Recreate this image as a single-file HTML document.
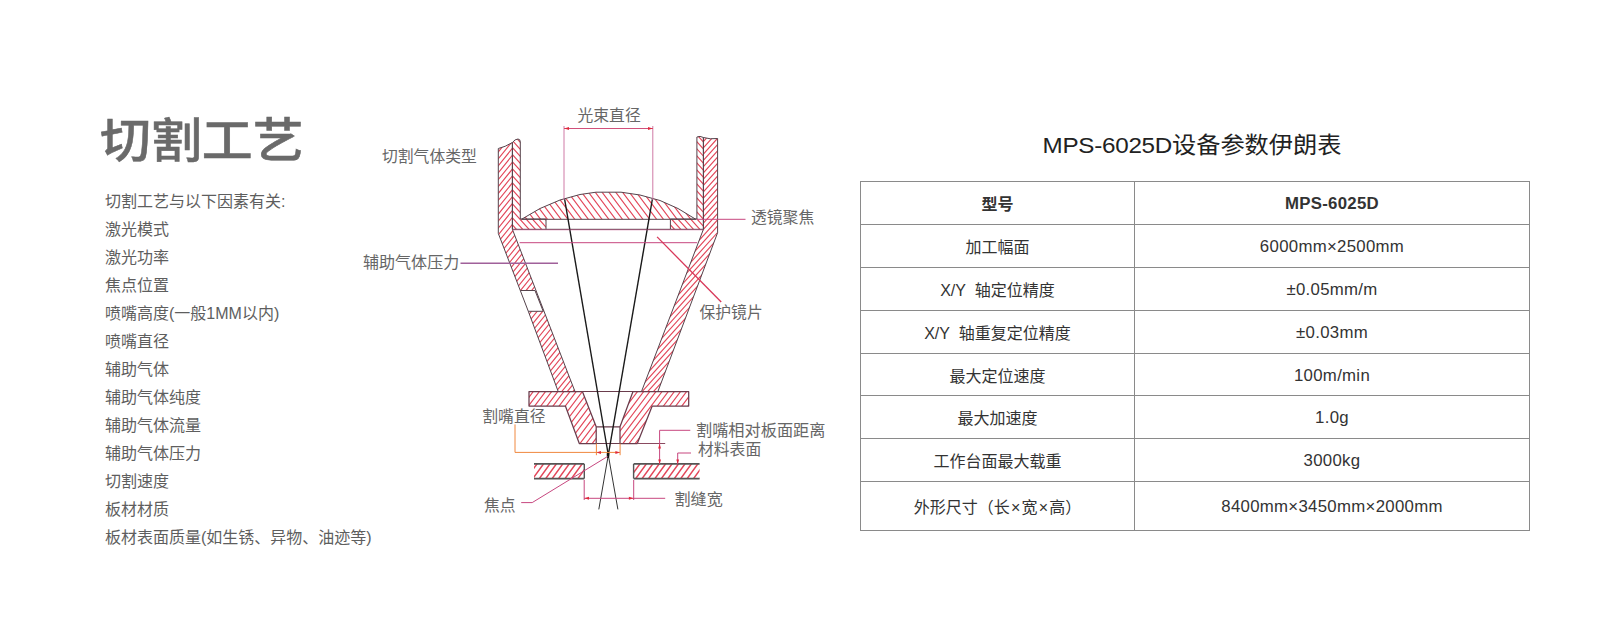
<!DOCTYPE html>
<html lang="zh-CN">
<head>
<meta charset="utf-8">
<title>切割工艺</title>
<style>
html,body{margin:0;padding:0;background:#fff;}
body{width:1600px;height:636px;position:relative;overflow:hidden;
  font-family:"Liberation Sans","Noto Sans CJK SC",sans-serif;color:#555;}
.abs{position:absolute;white-space:nowrap;}
h1.title{position:absolute;left:100px;top:105.6px;margin:0;font-size:46.5px;line-height:70px;font-weight:500;color:#6a6a6a;white-space:nowrap;letter-spacing:0;transform:scaleX(1.095);transform-origin:0 0;-webkit-text-stroke:0.5px #6a6a6a;}
ul.list{position:absolute;left:105px;top:188px;margin:0;padding:0;list-style:none;font-size:16px;line-height:28px;color:#5e5e5e;white-space:nowrap;}
ul.list li{height:28px;}
.lbl{position:absolute;font-size:15.8px;line-height:20px;color:#666;white-space:nowrap;}
svg.diag{position:absolute;left:0;top:0;width:1600px;height:636px;}
h2.ttl{position:absolute;left:857px;width:670px;top:125px;margin:0;text-align:center;transform:scaleX(1.064);transform-origin:50% 50%;font-size:22.75px;line-height:40px;font-weight:400;color:#222;white-space:nowrap;}
table.spec{position:absolute;left:860px;top:181px;width:670px;border-collapse:collapse;table-layout:fixed;font-size:16px;color:#333;}
table.spec td,table.spec th{border:1px solid #8a8a8a;height:42px;padding:0;text-align:center;vertical-align:middle;font-weight:400;}
table.spec th{font-weight:700;}
table.spec tr.r5 td{height:41px;}
table.spec tr.last td{height:48px;}
table.spec td.v,table.spec th.v{font-size:16.8px;letter-spacing:0.3px;padding-top:2px;height:40px;}
table.spec tr.r5 td.v{height:39px;}
table.spec tr.last td.v{height:46px;}
table.spec col.c1{width:274px;}
table.spec .x{margin:0 1.25px;}
</style>
</head>
<body>
<h1 class="title">切割工艺</h1>
<ul class="list">
<li>切割工艺与以下因素有关:</li>
<li>激光模式</li>
<li>激光功率</li>
<li>焦点位置</li>
<li>喷嘴高度(一般1MM以内)</li>
<li>喷嘴直径</li>
<li>辅助气体</li>
<li>辅助气体纯度</li>
<li>辅助气体流量</li>
<li>辅助气体压力</li>
<li>切割速度</li>
<li>板材材质</li>
<li>板材表面质量(如生锈、异物、油迹等)</li>
</ul>

<!--DIAGRAM-START-->
<svg class="diag" viewBox="0 0 1600 636" width="1600" height="636">
<defs>
<clipPath id="c_lw1"><path d="M498.3,148.5 Q505,147 512.4,142.5 L512.4,229.3 L570.5,380 L575,391.5 L558.2,391.5 L528.3,311.3 L543.2,311.3 L535,290.5 L520.3,290.5 L498.3,233.4 Z"/></clipPath>
<clipPath id="c_lw2"><path d="M512.4,142.5 Q515,139 518,139 Q520.3,139 520.3,142 L520.3,219 L546,219 L546,229.3 L512.4,229.3 Z"/></clipPath>
<clipPath id="c_rw1"><path d="M703.4,137.5 Q710,139.5 717.6,138.5 L717.6,232.7 L657.9,391.5 L641.5,391.5 L703.4,229.3 Z"/></clipPath>
<clipPath id="c_rw2"><path d="M703.4,137.5 Q700,135.5 696.9,137 L696.9,219 L670.4,219 L670.4,229.3 L703.4,229.3 Z"/></clipPath>
<clipPath id="c_lens"><path d="M521.5,219.3 L540,208.5 L560,200 L580,194.5 L596,192.2 L621,192.2 L640,195 L660,200.5 L678,208.5 L695.8,219.3 Z"/></clipPath>
<clipPath id="c_noz1"><path d="M529,391.5 L582.4,391.5 L596.2,426.8 L596.2,443.5 L579.3,443.5 L565.4,406 L529,406 Z"/></clipPath>
<clipPath id="c_noz2"><path d="M688.7,391.5 L633,391.5 L620,426.8 L620,443.5 L637.3,443.5 L652.2,406 L688.7,406 Z"/></clipPath>
<clipPath id="c_pl1"><path d="M534,463.9 L584.3,463.9 L584.3,478.6 L534,478.6 Z"/></clipPath>
<clipPath id="c_pl2"><path d="M633.6,463.9 L699.6,463.9 L699.6,478.6 L633.6,478.6 Z"/></clipPath>
</defs>
<g fill="none" stroke="#e3475a">
<path clip-path="url(#c_lw1)" stroke-width="1.15" d="M350.3,286.3L516.8,80.7M353.7,289.0L520.2,83.4M357.1,291.8L523.5,86.2M360.4,294.5L526.9,88.9M363.8,297.2L530.3,91.7M367.2,300.0L533.7,94.4M370.6,302.7L537.1,97.1M374.0,305.5L540.4,99.9M377.3,308.2L543.8,102.6M380.7,310.9L547.2,105.3M384.1,313.7L550.6,108.1M387.5,316.4L554.0,110.8M390.9,319.1L557.3,113.6M394.2,321.9L560.7,116.3M397.6,324.6L564.1,119.0M401.0,327.4L567.5,121.8M404.4,330.1L570.9,124.5M407.8,332.8L574.2,127.2M411.1,335.6L577.6,130.0M414.5,338.3L581.0,132.7M417.9,341.0L584.4,135.5M421.3,343.8L587.8,138.2M424.7,346.5L591.1,140.9M428.0,349.3L594.5,143.7M431.4,352.0L597.9,146.4M434.8,354.7L601.3,149.1M438.2,357.5L604.7,151.9M441.6,360.2L608.1,154.6M444.9,362.9L611.4,157.4M448.3,365.7L614.8,160.1M451.7,368.4L618.2,162.8M455.1,371.2L621.6,165.6M458.5,373.9L625.0,168.3M461.9,376.6L628.3,171.0M465.2,379.4L631.7,173.8M468.6,382.1L635.1,176.5M472.0,384.8L638.5,179.3M475.4,387.6L641.9,182.0M478.8,390.3L645.2,184.7M482.1,393.1L648.6,187.5M485.5,395.8L652.0,190.2M488.9,398.5L655.4,192.9M492.3,401.3L658.8,195.7M495.7,404.0L662.1,198.4M499.0,406.7L665.5,201.2M502.4,409.5L668.9,203.9M505.8,412.2L672.3,206.6M509.2,415.0L675.7,209.4M512.6,417.7L679.0,212.1M515.9,420.4L682.4,214.8M519.3,423.2L685.8,217.6M522.7,425.9L689.2,220.3M526.1,428.6L692.6,223.1M529.5,431.4L695.9,225.8M532.8,434.1L699.3,228.5M536.2,436.9L702.7,231.3M539.6,439.6L706.1,234.0M543.0,442.3L709.5,236.7M546.4,445.1L712.9,239.5M549.7,447.8L716.2,242.2M553.1,450.5L719.6,245.0M556.5,453.3L723.0,247.7"/>
<path clip-path="url(#c_lw2)" stroke-width="1.15" d="M535.9,110.6L603.1,185.1M532.4,113.7L599.6,188.3M529.0,116.9L596.1,191.4M525.5,120.0L592.6,194.6M522.0,123.1L589.1,197.7M518.5,126.3L585.6,200.9M515.0,129.4L582.1,204.0M511.5,132.6L578.6,207.2M508.0,135.7L575.1,210.3M504.5,138.9L571.7,213.4M501.0,142.0L568.2,216.6M497.5,145.2L564.7,219.7M494.0,148.3L561.2,222.9M490.5,151.4L557.7,226.0M487.0,154.6L554.2,229.2M483.5,157.7L550.7,232.3M480.1,160.9L547.2,235.5M476.6,164.0L543.7,238.6M473.1,167.2L540.2,241.7M469.6,170.3L536.7,244.9M466.1,173.5L533.2,248.0M462.6,176.6L529.7,251.2M459.1,179.8L526.2,254.3M455.6,182.9L522.8,257.5"/>
<path clip-path="url(#c_rw1)" stroke-width="1.15" d="M488.4,273.5L668.5,73.5M491.6,276.3L671.7,76.3M494.7,279.1L674.8,79.1M497.8,281.9L677.9,81.9M500.9,284.8L681.0,84.7M504.0,287.6L684.1,87.5M507.2,290.4L687.3,90.4M510.3,293.2L690.4,93.2M513.4,296.0L693.5,96.0M516.5,298.8L696.6,98.8M519.7,301.6L699.8,101.6M522.8,304.4L702.9,104.4M525.9,307.2L706.0,107.2M529.0,310.1L709.1,110.0M532.1,312.9L712.2,112.8M535.3,315.7L715.4,115.7M538.4,318.5L718.5,118.5M541.5,321.3L721.6,121.3M544.6,324.1L724.7,124.1M547.7,326.9L727.8,126.9M550.9,329.7L731.0,129.7M554.0,332.5L734.1,132.5M557.1,335.3L737.2,135.3M560.2,338.2L740.3,138.1M563.3,341.0L743.4,140.9M566.5,343.8L746.6,143.8M569.6,346.6L749.7,146.6M572.7,349.4L752.8,149.4M575.8,352.2L755.9,152.2M579.0,355.0L759.1,155.0M582.1,357.8L762.2,157.8M585.2,360.6L765.3,160.6M588.3,363.4L768.4,163.4M591.4,366.3L771.5,166.2M594.6,369.1L774.7,169.0M597.7,371.9L777.8,171.9M600.8,374.7L780.9,174.7M603.9,377.5L784.0,177.5M607.0,380.3L787.1,180.3M610.2,383.1L790.3,183.1M613.3,385.9L793.4,185.9M616.4,388.7L796.5,188.7M619.5,391.6L799.6,191.5M622.7,394.4L802.8,194.3M625.8,397.2L805.9,197.2M628.9,400.0L809.0,200.0M632.0,402.8L812.1,202.8M635.1,405.6L815.2,205.6M638.3,408.4L818.4,208.4M641.4,411.2L821.5,211.2M644.5,414.0L824.6,214.0M647.6,416.8L827.7,216.8M650.7,419.7L830.8,219.6M653.9,422.5L834.0,222.4M657.0,425.3L837.1,225.3M660.1,428.1L840.2,228.1M663.2,430.9L843.3,230.9M666.3,433.7L846.4,233.7M669.5,436.5L849.6,236.5M672.6,439.3L852.7,239.3M675.7,442.1L855.8,242.1M678.8,444.9L858.9,244.9M682.0,447.8L862.1,247.7M685.1,450.6L865.2,250.5M688.2,453.4L868.3,253.4M691.3,456.2L871.4,256.2"/>
<path clip-path="url(#c_rw2)" stroke-width="1.15" d="M692.0,108.2L761.2,185.1M688.5,111.4L757.7,188.3M685.0,114.5L754.2,191.4M681.5,117.7L750.7,194.5M678.0,120.8L747.2,197.7M674.5,124.0L743.7,200.8M671.0,127.1L740.2,204.0M667.5,130.3L736.7,207.1M664.0,133.4L733.2,210.3M660.5,136.6L729.7,213.4M657.0,139.7L726.2,216.6M653.5,142.8L722.8,219.7M650.1,146.0L719.3,222.9M646.6,149.1L715.8,226.0M643.1,152.3L712.3,229.1M639.6,155.4L708.8,232.3M636.1,158.6L705.3,235.4M632.6,161.7L701.8,238.6M629.1,164.9L698.3,241.7M625.6,168.0L694.8,244.9M622.1,171.1L691.3,248.0M618.6,174.3L687.8,251.2M615.1,177.4L684.3,254.3M611.6,180.6L680.8,257.4"/>
<path clip-path="url(#c_lens)" stroke-width="1.15" d="M630.7,76.2L739.2,220.3M626.3,79.5L734.9,223.6M622.0,82.8L730.5,226.9M617.6,86.1L726.2,230.1M613.3,89.3L721.8,233.4M608.9,92.6L717.5,236.7M604.5,95.9L713.1,240.0M600.2,99.2L708.8,243.3M595.8,102.5L704.4,246.5M591.5,105.7L700.1,249.8M587.1,109.0L695.7,253.1M582.8,112.3L691.4,256.4M578.4,115.6L687.0,259.6M574.1,118.9L682.6,262.9M569.7,122.1L678.3,266.2M565.4,125.4L673.9,269.5M561.0,128.7L669.6,272.8M556.7,132.0L665.2,276.0M552.3,135.3L660.9,279.3M548.0,138.5L656.5,282.6M543.6,141.8L652.2,285.9M539.3,145.1L647.8,289.2M534.9,148.4L643.5,292.4M530.6,151.7L639.1,295.7M526.2,154.9L634.8,299.0M521.9,158.2L630.4,302.3M517.5,161.5L626.1,305.6M513.1,164.8L621.7,308.8M508.8,168.1L617.4,312.1M504.4,171.3L613.0,315.4M500.1,174.6L608.7,318.7M495.7,177.9L604.3,322.0M491.4,181.2L599.9,325.2M487.0,184.5L595.6,328.5M482.7,187.7L591.2,331.8M478.3,191.0L586.9,335.1"/>
<path clip-path="url(#c_noz1)" stroke-width="1.15" d="M496.8,423.6L550.3,352.6M500.7,426.6L554.3,355.5M504.6,429.5L558.2,358.5M508.5,432.5L562.1,361.4M512.5,435.4L566.0,364.4M516.4,438.4L569.9,367.3M520.3,441.3L573.8,370.3M524.2,444.3L577.7,373.2M528.1,447.2L581.6,376.2M532.0,450.2L585.6,379.1M535.9,453.1L589.5,382.1M539.8,456.1L593.4,385.0M543.8,459.0L597.3,387.9M547.7,462.0L601.2,390.9M551.6,464.9L605.1,393.8M555.5,467.8L609.0,396.8M559.4,470.8L613.0,399.7M563.3,473.7L616.9,402.7M567.2,476.7L620.8,405.6M571.2,479.6L624.7,408.6M575.1,482.6L628.6,411.5"/>
<path clip-path="url(#c_noz2)" stroke-width="1.15" d="M588.4,424.2L642.6,352.2M592.3,427.2L646.5,355.2M596.2,430.1L650.5,358.1M600.1,433.1L654.4,361.1M604.0,436.0L658.3,364.0M607.9,439.0L662.2,367.0M611.9,441.9L666.1,369.9M615.8,444.9L670.0,372.9M619.7,447.8L673.9,375.8M623.6,450.8L677.9,378.8M627.5,453.7L681.8,381.7M631.4,456.7L685.7,384.7M635.3,459.6L689.6,387.6M639.2,462.6L693.5,390.6M643.2,465.5L697.4,393.5M647.1,468.5L701.3,396.5M651.0,471.4L705.2,399.4M654.9,474.4L709.2,402.4M658.8,477.3L713.1,405.3M662.7,480.3L717.0,408.3M666.6,483.2L720.9,411.2"/>
<path clip-path="url(#c_pl1)" stroke-width="1.5" d="M516.2,474.9L549.4,429.3M520.4,478.0L553.6,432.4M524.6,481.0L557.8,435.4M528.9,484.1L562.0,438.5M533.1,487.2L566.2,441.5M537.3,490.2L570.4,444.6M541.5,493.3L574.6,447.6M545.7,496.3L578.8,450.7M549.9,499.4L583.0,453.8M554.1,502.4L587.3,456.8M558.3,505.5L591.5,459.9M562.5,508.6L595.7,462.9M566.7,511.6L599.9,466.0"/>
<path clip-path="url(#c_pl2)" stroke-width="1.5" d="M616.2,478.9L658.3,421.0M620.4,481.9L662.5,424.0M624.6,485.0L666.7,427.1M628.8,488.1L670.9,430.1M633.0,491.1L675.1,433.2M637.2,494.2L679.3,436.2M641.4,497.2L683.5,439.3M645.6,500.3L687.7,442.3M649.9,503.3L691.9,445.4M654.1,506.4L696.2,448.5M658.3,509.5L700.4,451.5M662.5,512.5L704.6,454.6M666.7,515.6L708.8,457.6M670.9,518.6L713.0,460.7M675.1,521.7L717.2,463.7"/>
</g>
<g fill="none" stroke="#55434c" stroke-width="1" stroke-linejoin="round">
<path stroke="#55434c" stroke-width="1.0" d="M498.3,148.5 Q505,147 512.4,142.5 L512.4,229.3 L570.5,380 L575,391.5 L558.2,391.5 L528.3,311.3 L543.2,311.3 L535,290.5 L520.3,290.5 L498.3,233.4 Z"/>
<path stroke="#55434c" stroke-width="1.0" d="M512.4,142.5 Q515,139 518,139 Q520.3,139 520.3,142 L520.3,219 L546,219 L546,229.3 L512.4,229.3 Z"/>
<path stroke="#55434c" stroke-width="1.0" d="M703.4,137.5 Q710,139.5 717.6,138.5 L717.6,232.7 L657.9,391.5 L641.5,391.5 L703.4,229.3 Z"/>
<path stroke="#55434c" stroke-width="1.0" d="M703.4,137.5 Q700,135.5 696.9,137 L696.9,219 L670.4,219 L670.4,229.3 L703.4,229.3 Z"/>
<path stroke="#55434c" stroke-width="1.0" d="M521.5,219.3 L540,208.5 L560,200 L580,194.5 L596,192.2 L621,192.2 L640,195 L660,200.5 L678,208.5 L695.8,219.3 Z"/>
<path stroke="#6a3c4c" stroke-width="1.25" d="M529,391.5 L582.4,391.5 L596.2,426.8 L596.2,443.5 L579.3,443.5 L565.4,406 L529,406 Z"/>
<path stroke="#6a3c4c" stroke-width="1.25" d="M688.7,391.5 L633,391.5 L620,426.8 L620,443.5 L637.3,443.5 L652.2,406 L688.7,406 Z"/>
<path d="M520.3,290.5 L528.3,311.3"/>
<path d="M546,229.3 L670.4,229.3"/>
<path stroke="#6a3c4c" stroke-width="1.2" d="M582.4,391.5 L633,391.5 M596.2,426.8 L620,426.8 M596.2,443.5 L620,443.5"/>
<path stroke="#555" stroke-width="1.7" d="M534,463.9 L584.3,463.9 M584.3,478.6 L534,478.6 M633.6,463.9 L699.6,463.9 M699.6,478.6 L633.6,478.6"/>
<path stroke="#555" stroke-width="1.4" d="M584.3,463.9 L584.3,478.6 M633.6,463.9 L633.6,478.6"/>
</g>
<g fill="none" stroke="#1a1a1a" stroke-width="1.4">
<path d="M564.5,198.5 L608.3,455"/>
<path d="M652.5,198.5 L608.3,455"/>
<path stroke="#333" stroke-width="1" d="M608.3,455 L617.9,509.4 M608.3,455 L598.8,509.4"/>
</g>
<ellipse cx="608.1" cy="454.4" rx="1.35" ry="3.6" fill="#111"/>
<g fill="none" stroke="#c7477f" stroke-width="1">
<path stroke="#cf7aa6" d="M564,126 L564,200 M652.8,126 L652.8,200"/><path stroke="#d0507a" d="M564,128.5 L653,128.5"/>
<path d="M519.6,242.7 L697.2,242.7"/>
<path d="M512.4,229.8 L703.4,229.8" stroke-opacity="0.55"/>
<path d="M460.5,263.3 L558,263.3" stroke="#a0609a" stroke-width="1.4"/>
<path d="M697,219.3 L745.5,219.3"/>
<path d="M657.1,236.9 L721.2,302" stroke="#d8385a" stroke-width="1.3"/>
<path d="M637.3,443.5 L665.2,443.5" stroke="#8a4a60"/>
<path d="M690.3,430.3 L659.6,430.3 L659.6,464"/>
<path d="M691,453 L677.7,453 L677.7,464"/>
<path d="M584.2,480 L584.2,500 M633.7,480 L633.7,500 M584.2,498.3 L665.2,498.3"/>
<path d="M521.2,502.6 L532.2,502.6 L607.5,456.5"/>
</g>
<g fill="none" stroke="#f0883e" stroke-width="1">
<path d="M515,424.4 L515,452.4 L620,452.4"/>
<path d="M596.4,443.6 L596.4,455.2 M620.1,443.6 L620.1,455.2"/>
</g>
<g fill="#e02a3c" stroke="none">
<path d="M564.2,128.5 L569,126.9 L569,130.1 Z"/>
<path d="M652.8,128.5 L648,126.9 L648,130.1 Z"/>
<path d="M596.6,452.4 L601,450.9 L601,453.9 Z"/>
<path d="M619.8,452.4 L615.4,450.9 L615.4,453.9 Z"/>
<path d="M659.6,443.8 L658.2,448.4 L661,448.4 Z"/>
<path d="M659.6,464 L658.2,459.4 L661,459.4 Z"/>
<path d="M677.7,464 L676.3,459.4 L679.1,459.4 Z"/>
<path d="M584.4,498.3 L589,496.8 L589,499.8 Z"/>
<path d="M633.5,498.3 L628.9,496.8 L628.9,499.8 Z"/>
</g>
</svg>
<!--DIAGRAM-END-->

<div class="lbl" style="left:577.5px;top:106px;">光束直径</div>
<div class="lbl" style="left:382px;top:147px;">切割气体类型</div>
<div class="lbl" style="left:363px;top:252px;font-size:16.05px;">辅助气体压力</div>
<div class="lbl" style="left:751px;top:208px;">透镜聚焦</div>
<div class="lbl" style="left:699.5px;top:302.6px;">保护镜片</div>
<div class="lbl" style="left:482.3px;top:406.8px;">割嘴直径</div>
<div class="lbl" style="left:696px;top:420px;font-size:16.2px;">割嘴相对板面距离</div>
<div class="lbl" style="left:698px;top:440px;">材料表面</div>
<div class="lbl" style="left:484px;top:496px;">焦点</div>
<div class="lbl" style="left:674.5px;top:488.6px;font-size:16.1px;">割缝宽</div>

<h2 class="ttl"><span style="letter-spacing:-0.25px">MPS-6025D</span>设备参数伊朗表</h2>
<table class="spec">
<colgroup><col class="c1"><col></colgroup>
<tr><th>型号</th><th class="v">MPS-6025D</th></tr>
<tr><td>加工幅面</td><td class="v">6000mm×2500mm</td></tr>
<tr><td>X/Y&nbsp; 轴定位精度</td><td class="v">±0.05mm/m</td></tr>
<tr><td>X/Y&nbsp; 轴重复定位精度</td><td class="v">±0.03mm</td></tr>
<tr class="r5"><td>最大定位速度</td><td class="v">100m/min</td></tr>
<tr><td>最大加速度</td><td class="v">1.0g</td></tr>
<tr><td>工作台面最大载重</td><td class="v">3000kg</td></tr>
<tr class="last"><td>外形尺寸（长<span class="x">×</span>宽<span class="x">×</span>高）</td><td class="v">8400mm×3450mm×2000mm</td></tr>
</table>
</body>
</html>
